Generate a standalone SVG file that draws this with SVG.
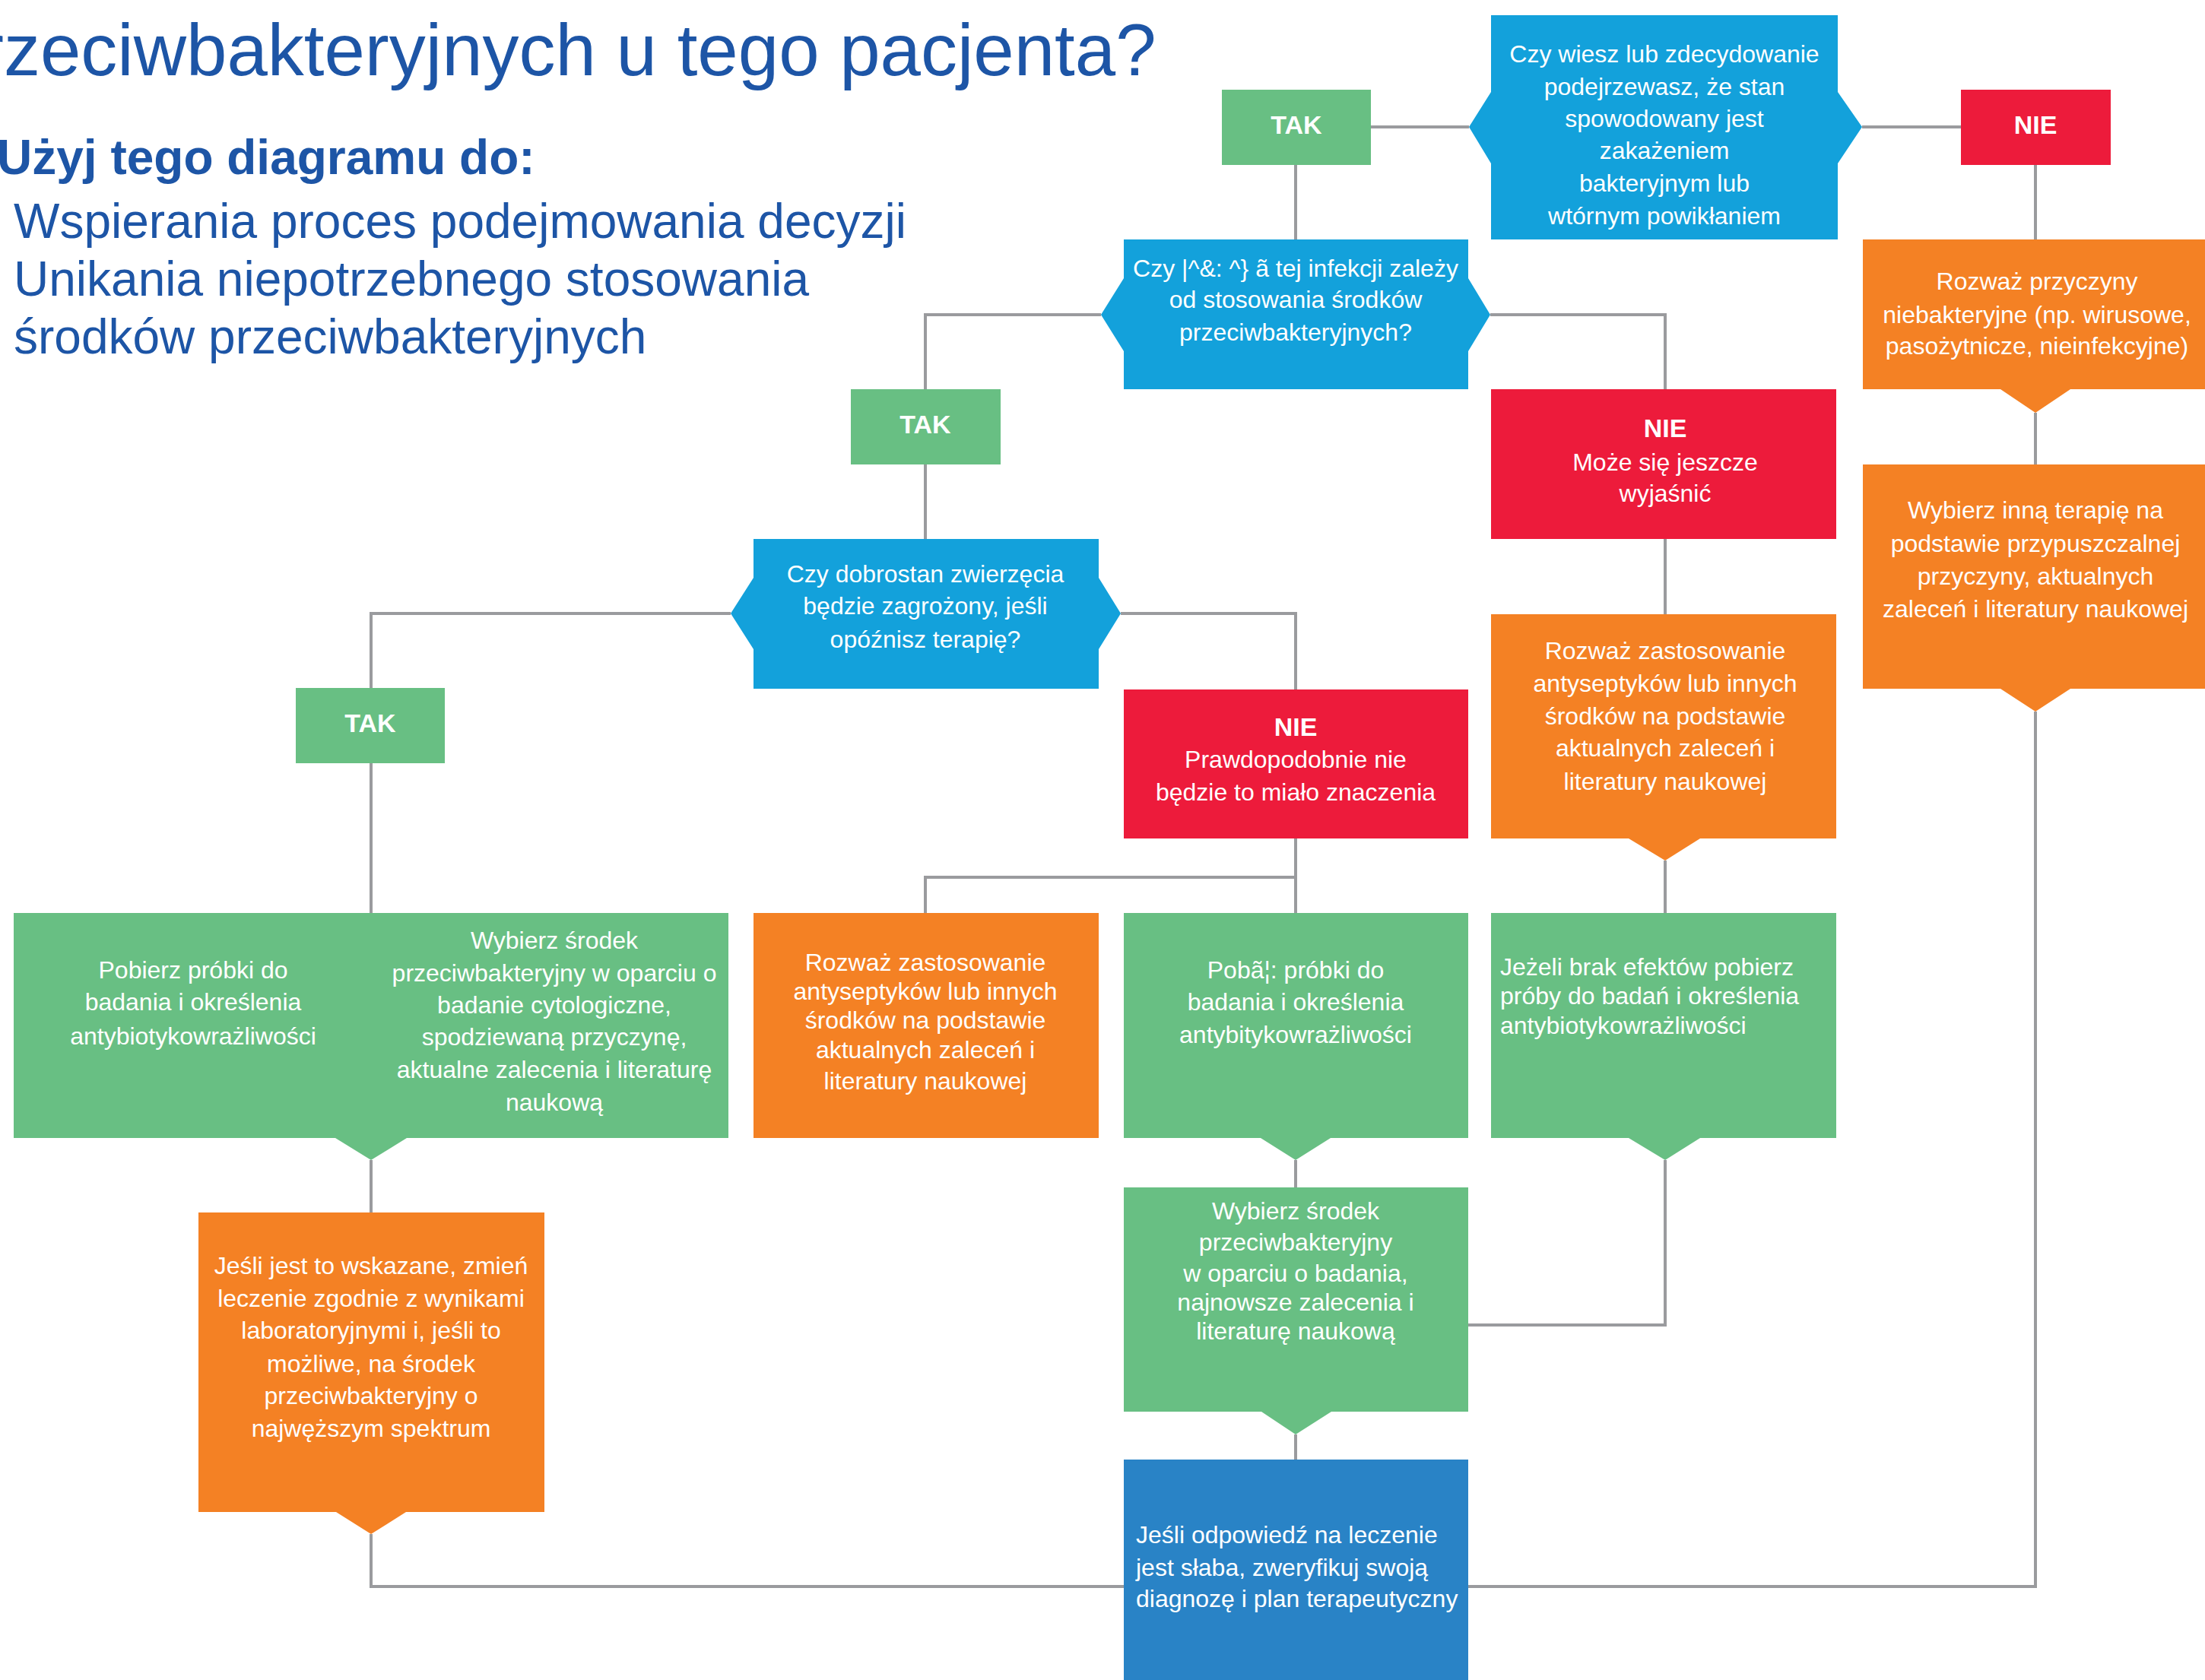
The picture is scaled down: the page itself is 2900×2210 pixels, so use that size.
<svg xmlns="http://www.w3.org/2000/svg" width="2900" height="2210" viewBox="0 0 2900 2210">
<defs>
<style>
.t{font-family:"Liberation Sans",Arial,sans-serif;fill:#fff;font-size:32px;text-anchor:middle}
.l{text-anchor:start}
.b{font-weight:bold;font-size:34px}
.h{font-family:"Liberation Sans",Arial,sans-serif;fill:#1d55a6}
.c{fill:none;stroke:#9a9b9e;stroke-width:4}
.g{fill:#68bf83}.r{fill:#ed1b3b}.o{fill:#f48124}.q{fill:#13a1db}.d{fill:#2983c6}
</style>
</defs>
<rect width="2900" height="2210" fill="#fff"/>
<g id="header">
<text class="h" x="-27" y="99" font-size="96">rzeciwbakteryjnych u tego pacjenta?</text>
<text class="h" x="-4" y="229" font-size="64" font-weight="bold">Użyj tego diagramu do:</text>
<text class="h" x="18" y="313" font-size="64">Wspierania proces podejmowania decyzji</text>
<text class="h" x="18" y="389" font-size="64">Unikania niepotrzebnego stosowania</text>
<text class="h" x="18" y="465" font-size="64">środków przeciwbakteryjnych</text>
</g>
<g id="connectors">
<path class="c" d="M1803 167H1932M2449 167H2579M1704 217V315M2677 217V315M2677 543V611M2677 936V2087H1931"/>
<path class="c" d="M1448 414H1217V512M1960 414H2190V512M1217 611V709M961 807H488V905M1474 807H1704V907"/>
<path class="c" d="M2190 709V808M2190 1132V1201M2190 1526V1743H1931M1704 1103V1201M1704 1154H1217V1201"/>
<path class="c" d="M488 1004V1201M488 1526V1595M488 2018V2087H1478M1704 1526V1562M1704 1887V1920"/>
</g>
<g id="q1">
<path class="q" d="M1961 20H2417V121L2449 167L2417 215V315H1961V215L1932 167L1961 121Z"/>
<text class="t" x="2189" y="82">Czy wiesz lub zdecydowanie</text>
<text class="t" x="2189" y="125">podejrzewasz, że stan</text>
<text class="t" x="2189" y="167">spowodowany jest</text>
<text class="t" x="2189" y="209">zakażeniem</text>
<text class="t" x="2189" y="252">bakteryjnym lub</text>
<text class="t" x="2189" y="295">wtórnym powikłaniem</text>
</g>
<g id="tak1"><rect class="g" x="1607" y="118" width="196" height="99"/><text class="t b" x="1705" y="176">TAK</text></g>
<g id="nie1"><rect class="r" x="2579" y="118" width="197" height="99"/><text class="t b" x="2677" y="176">NIE</text></g>
<g id="q2">
<path class="q" d="M1478 315H1931V366L1960 414L1931 462V512H1478V462L1448 414L1478 366Z"/>
<text class="t" x="1704" y="364">Czy |^&amp;: ^} ã tej infekcji zależy</text>
<text class="t" x="1704" y="405">od stosowania środków</text>
<text class="t" x="1704" y="448">przeciwbakteryjnych?</text>
</g>
<g id="o1">
<path class="o" d="M2450 315H2904V512H2723L2677 543L2631 512H2450Z"/>
<text class="t" x="2679" y="381">Rozważ przyczyny</text>
<text class="t" x="2679" y="425">niebakteryjne (np. wirusowe,</text>
<text class="t" x="2679" y="466">pasożytnicze, nieinfekcyjne)</text>
</g>
<g id="o2">
<path class="o" d="M2450 611H2904V906H2723L2677 936L2631 906H2450Z"/>
<text class="t" x="2677" y="682">Wybierz inną terapię na</text>
<text class="t" x="2677" y="726">podstawie przypuszczalnej</text>
<text class="t" x="2677" y="769">przyczyny, aktualnych</text>
<text class="t" x="2677" y="812">zaleceń i literatury naukowej</text>
</g>
<g id="tak2"><rect class="g" x="1119" y="512" width="197" height="99"/><text class="t b" x="1217" y="570">TAK</text></g>
<g id="nie2">
<rect class="r" x="1961" y="512" width="454" height="197"/>
<text class="t b" x="2190" y="575">NIE</text>
<text class="t" x="2190" y="619">Może się jeszcze</text>
<text class="t" x="2190" y="660">wyjaśnić</text>
</g>
<g id="q3">
<path class="q" d="M991 709H1445V760L1474 807L1445 854V906H991V854L961 807L991 760Z"/>
<text class="t" x="1217" y="766">Czy dobrostan zwierzęcia</text>
<text class="t" x="1217" y="808">będzie zagrożony, jeśli</text>
<text class="t" x="1217" y="852">opóźnisz terapię?</text>
</g>
<g id="o3">
<path class="o" d="M1961 808H2415V1103H2236L2190 1132L2142 1103H1961Z"/>
<text class="t" x="2190" y="867">Rozważ zastosowanie</text>
<text class="t" x="2190" y="910">antyseptyków lub innych</text>
<text class="t" x="2190" y="953">środków na podstawie</text>
<text class="t" x="2190" y="995">aktualnych zaleceń i</text>
<text class="t" x="2190" y="1039">literatury naukowej</text>
</g>
<g id="tak3"><rect class="g" x="389" y="905" width="196" height="99"/><text class="t b" x="487" y="963">TAK</text></g>
<g id="nie3">
<rect class="r" x="1478" y="907" width="453" height="196"/>
<text class="t b" x="1704" y="968">NIE</text>
<text class="t" x="1704" y="1010">Prawdopodobnie nie</text>
<text class="t" x="1704" y="1053">będzie to miało znaczenia</text>
</g>
<g id="g1">
<path class="g" d="M18 1201H958V1497H535L488 1526L441 1497H18Z"/>
<text class="t" x="254" y="1287">Pobierz próbki do</text>
<text class="t" x="254" y="1329">badania i określenia</text>
<text class="t" x="254" y="1374">antybiotykowrażliwości</text>
<text class="t" x="729" y="1248">Wybierz środek</text>
<text class="t" x="729" y="1291">przeciwbakteryjny w oparciu o</text>
<text class="t" x="729" y="1333">badanie cytologiczne,</text>
<text class="t" x="729" y="1375">spodziewaną przyczynę,</text>
<text class="t" x="729" y="1418">aktualne zalecenia i literaturę</text>
<text class="t" x="729" y="1461">naukową</text>
</g>
<g id="o4">
<rect class="o" x="991" y="1201" width="454" height="296"/>
<text class="t" x="1217" y="1277">Rozważ zastosowanie</text>
<text class="t" x="1217" y="1315">antyseptyków lub innych</text>
<text class="t" x="1217" y="1353">środków na podstawie</text>
<text class="t" x="1217" y="1392">aktualnych zaleceń i</text>
<text class="t" x="1217" y="1433">literatury naukowej</text>
</g>
<g id="g2">
<path class="g" d="M1478 1201H1931V1497H1750L1704 1526L1658 1497H1478Z"/>
<text class="t" x="1704" y="1287">Pobã¦:  próbki do</text>
<text class="t" x="1704" y="1329">badania i określenia</text>
<text class="t" x="1704" y="1372">antybitykowrażliwości</text>
</g>
<g id="g3">
<path class="g" d="M1961 1201H2415V1497H2236L2190 1526L2142 1497H1961Z"/>
<text class="t l" x="1973" y="1283">Jeżeli brak efektów pobierz</text>
<text class="t l" x="1973" y="1321">próby do badań i określenia</text>
<text class="t l" x="1973" y="1360">antybiotykowrażliwości</text>
</g>
<g id="g4">
<path class="g" d="M1478 1562H1931V1857H1751L1704 1887L1659 1857H1478Z"/>
<text class="t" x="1704" y="1604">Wybierz środek</text>
<text class="t" x="1704" y="1645">przeciwbakteryjny</text>
<text class="t" x="1704" y="1686">w oparciu o badania,</text>
<text class="t" x="1704" y="1724">najnowsze zalecenia i</text>
<text class="t" x="1704" y="1762">literaturę naukową</text>
</g>
<g id="o5">
<path class="o" d="M261 1595H716V1989H534L488 2018L442 1989H261Z"/>
<text class="t" x="488" y="1676">Jeśli jest to wskazane, zmień</text>
<text class="t" x="488" y="1719">leczenie zgodnie z wynikami</text>
<text class="t" x="488" y="1761">laboratoryjnymi i, jeśli to</text>
<text class="t" x="488" y="1805">możliwe, na środek</text>
<text class="t" x="488" y="1847">przeciwbakteryjny o</text>
<text class="t" x="488" y="1890">najwęższym spektrum</text>
</g>
<g id="final">
<rect class="d" x="1478" y="1920" width="453" height="300"/>
<text class="t l" x="1494" y="2030">Jeśli odpowiedź na leczenie</text>
<text class="t l" x="1494" y="2073">jest słaba, zweryfikuj swoją</text>
<text class="t l" x="1494" y="2114">diagnozę i plan terapeutyczny</text>
</g>
</svg>
